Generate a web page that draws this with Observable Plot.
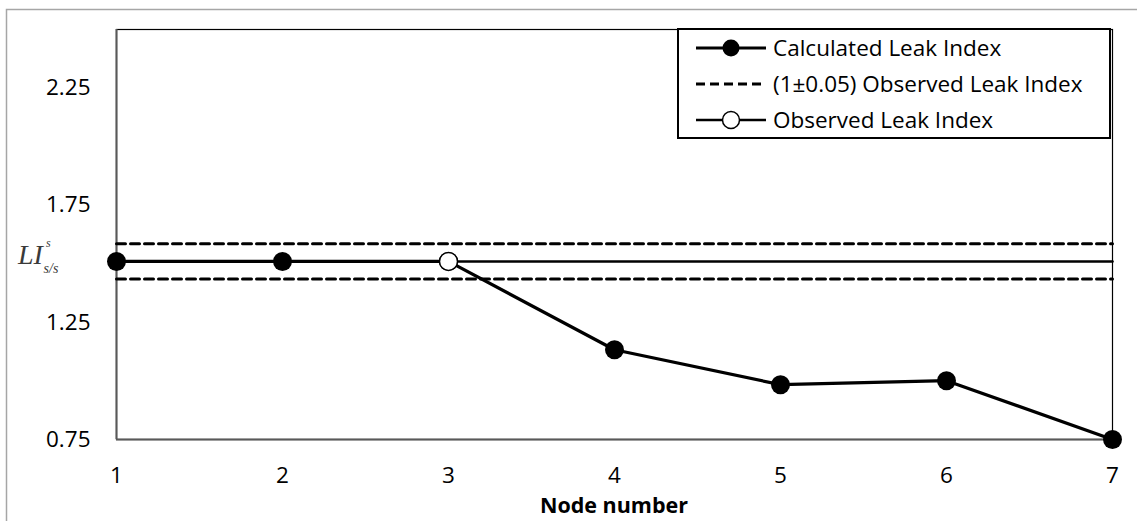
<!DOCTYPE html>
<html>
<head>
<meta charset="utf-8">
<script src="https://cdn.jsdelivr.net/npm/d3@7"></script>
<script src="https://cdn.jsdelivr.net/npm/@observablehq/plot@0.6"></script>
<style>
  html, body { margin: 0; padding: 0; background: #fff; }
  #chart { width: 1137px; height: 521px; }
</style>
</head>
<body>
<div id="chart"></div>
<script>
// ---- data ----
const nodes = [1, 2, 3, 4, 5, 6, 7];
const calculatedLeakIndex = [1.51, 1.51, 1.51, 1.133, 0.984, 1.001, 0.75];
const observedLeakIndex = [1.51, 1.51, 1.51, 1.51, 1.51, 1.51, 1.51];
const upperBand = [1.585, 1.585, 1.585, 1.585, 1.585, 1.585, 1.585];
const lowerBand = [1.435, 1.435, 1.435, 1.435, 1.435, 1.435, 1.435];
const leakNode = [3];
const leakNodeValue = [1.51];
const yTicks = [0.75, 1.25, 1.75, 2.25];
const xTicks = [1, 2, 3, 4, 5, 6, 7];
const legendLabels = ["Calculated Leak Index", "(1\u00b10.05) Observed Leak Index", "Observed Leak Index"];
const xTitle = "Node number";

const calc = nodes.map((n, i) => ({x: n, y: calculatedLeakIndex[i]}));
const obs = nodes.map((n, i) => ({x: n, y: observedLeakIndex[i]}));
const up = nodes.map((n, i) => ({x: n, y: upperBand[i]}));
const lo = nodes.map((n, i) => ({x: n, y: lowerBand[i]}));
const leak = leakNode.map((n, i) => ({x: n, y: leakNodeValue[i]}));

const W = 1137, H = 521;
const mL = 116, mR = 25, mT = 29, mB = 82;
const FONT = "'Open Sans', Lato, sans-serif";
const FS = 22.5;

const plot = Plot.plot({
  width: W,
  height: H,
  marginLeft: mL,
  marginRight: mR,
  marginTop: mT,
  marginBottom: mB,
  style: {fontFamily: FONT, fontSize: FS + "px", color: "#000", background: "transparent", overflow: "visible"},
  x: {type: "linear", domain: [1, 7]},
  y: {type: "linear", domain: [0.75, 2.5]},
  marks: [
    Plot.frame({stroke: "#000", strokeWidth: 1.2}),
    Plot.ruleX([1], {stroke: "#595959", strokeWidth: 2}),
    Plot.ruleY([0.75], {stroke: "#595959", strokeWidth: 2}),
    Plot.axisX({ticks: xTicks, tickSize: 0, tickPadding: 28, tickFormat: d => String(d), label: null, fontSize: FS, fill: "#000"}),
    Plot.axisY({ticks: yTicks, tickSize: 0, tickPadding: 26, tickFormat: d => d.toFixed(2), label: null, fontSize: FS, fill: "#000"}),
    Plot.line(up, {x: "x", y: "y", stroke: "#000", strokeWidth: 3, strokeDasharray: "9,5"}),
    Plot.line(lo, {x: "x", y: "y", stroke: "#000", strokeWidth: 3, strokeDasharray: "9,5"}),
    Plot.line(obs, {x: "x", y: "y", stroke: "#000", strokeWidth: 2.6}),
    Plot.line(calc, {x: "x", y: "y", stroke: "#000", strokeWidth: 3.2}),
    Plot.dot(calc, {x: "x", y: "y", r: 9.5, fill: "#000", stroke: "none"}),
    Plot.dot(leak, {x: "x", y: "y", r: 9, fill: "#fff", stroke: "#000", strokeWidth: 1.5})
  ]
});

document.getElementById("chart").appendChild(plot);
const svg = d3.select(plot);

// outer chart-area border
svg.insert("rect", ":first-child")
  .attr("x", 6.5).attr("y", 9.5).attr("width", W + 10).attr("height", H + 10)
  .attr("fill", "none").attr("stroke", "#a6a6a6").attr("stroke-width", 1.5);

// x axis title
svg.append("text")
  .attr("x", (mL + (W - mR)) / 2).attr("y", 513)
  .attr("text-anchor", "middle")
  .attr("font-family", FONT).attr("font-weight", "bold").attr("font-size", 21.5)
  .attr("fill", "#000")
  .text(xTitle);

// y axis label  LI^s_{s/s}
const yl = svg.append("text")
  .attr("x", 18).attr("y", 264)
  .attr("text-anchor", "start")
  .attr("font-family", "'Liberation Serif', 'DejaVu Serif', serif")
  .attr("font-style", "italic").attr("font-size", 28)
  .attr("fill", "#3a3a3a");
yl.append("tspan").text("LI");
yl.append("tspan").attr("font-size", 12).attr("dy", -17).attr("dx", 3).text("s");
yl.append("tspan").attr("font-size", 14).attr("dy", 26).attr("dx", -7).text("s/s");

// legend
const lg = svg.append("g").attr("text-anchor", "start");
lg.append("rect").attr("x", 678).attr("y", 29).attr("width", 432).attr("height", 109)
  .attr("fill", "#fff").attr("stroke", "#000").attr("stroke-width", 2);
const rows = [48, 84, 120];
// row 1: calculated
lg.append("line").attr("x1", 696).attr("x2", 766).attr("y1", rows[0]).attr("y2", rows[0])
  .attr("stroke", "#000").attr("stroke-width", 3);
lg.append("circle").attr("cx", 731).attr("cy", rows[0]).attr("r", 8.5).attr("fill", "#000");
// row 2: dashed
lg.append("line").attr("x1", 696).attr("x2", 766).attr("y1", rows[1]).attr("y2", rows[1])
  .attr("stroke", "#000").attr("stroke-width", 3).attr("stroke-dasharray", "9,5");
// row 3: observed
lg.append("line").attr("x1", 696).attr("x2", 766).attr("y1", rows[2]).attr("y2", rows[2])
  .attr("stroke", "#000").attr("stroke-width", 2.6);
lg.append("circle").attr("cx", 731).attr("cy", rows[2]).attr("r", 8.5)
  .attr("fill", "#fff").attr("stroke", "#000").attr("stroke-width", 1.5);
legendLabels.forEach((t, i) => {
  lg.append("text").attr("x", 773).attr("y", rows[i]).attr("dy", "0.35em")
    .attr("text-anchor", "start")
    .attr("font-family", FONT).attr("font-size", FS).attr("fill", "#000").text(t);
});
</script>
</body>
</html>
